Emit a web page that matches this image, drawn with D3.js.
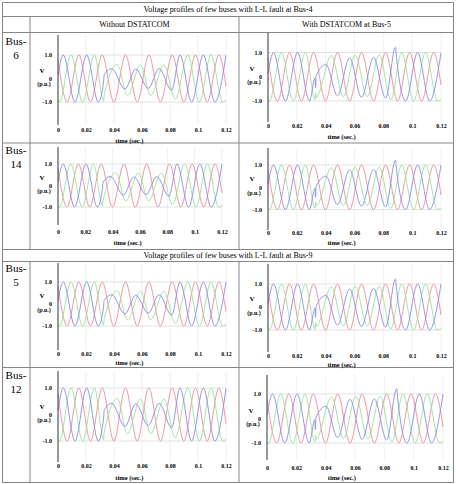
<!DOCTYPE html>
<html>
<head>
<meta charset="utf-8">
<script src="https://cdn.jsdelivr.net/npm/d3@7"></script>
<style>
  body { margin: 0; background: #fff; }
  text { font-family: "Liberation Serif", "Times New Roman", serif; fill: #000; }
</style>
</head>
<body>
<svg width="456" height="484"></svg>
<script>
// table text
const tableTitles = ["Voltage profiles of few buses with L-L fault at Bus-4",
                     "Voltage profiles of few buses with L-L fault at Bus-9"];
const colHeads = ["Without DSTATCOM", "With DSTATCOM at Bus-5"];
const busNames = ["6", "14", "5", "12"];

// axis ticks
const xTicks = [0, 0.02, 0.04, 0.06, 0.08, 0.1, 0.12];
const xTickLabels = ["0", "0.02", "0.04", "0.06", "0.08", "0.1", "0.12"];
const yTicks = [1, 0, -1];
const yTickLabels = ["1.0", "0", "-1.0"];

// waveform extremes [time (s), voltage (p.u.)]
const phaseRed = [[0, 0.79], [0.0066, -1], [0.0149, 1], [0.0232, -1], [0.0316, 1], [0.0399, -1],
  [0.0482, 1], [0.0566, -1], [0.0649, 1], [0.0732, -1], [0.0816, 1], [0.0899, -1],
  [0.0982, 1], [0.1066, -1], [0.1149, 1], [0.12, -0.34]];

const blueWithout = [[0, 0.14], [0.0038, 1], [0.0121, -1], [0.0205, 1], [0.0288, -1],
  [0.0326, -0.12], [0.0329, 0.15], [0.0384, 0.42], [0.0478, -0.45], [0.0555, 0.4],
  [0.0645, -0.42], [0.0722, 0.42], [0.0812, -0.5], [0.0871, 1], [0.0955, -1],
  [0.1038, 1], [0.1121, -1], [0.12, 0.99]];
const greenWithout = [[0, -0.93], [0.0010, -1], [0.0093, 1], [0.0176, -1], [0.0260, 1],
  [0.0326, -0.95], [0.0329, -0.72], [0.0424, 0.6], [0.0495, -0.72], [0.0590, 0.58],
  [0.0662, -0.72], [0.0757, 0.58], [0.0838, -0.88], [0.0927, 1], [0.1010, -1],
  [0.1093, 1], [0.1176, -1], [0.12, -0.93]];

const blueWith = [[0, 0.14], [0.0038, 1], [0.0121, -1], [0.0205, 1], [0.0288, -1],
  [0.0326, -0.05], [0.0330, -0.45], [0.0334, 0.05], [0.0402, 0.5], [0.0482, -0.78],
  [0.0566, 0.78], [0.0649, -0.85], [0.0732, 0.8], [0.0816, -0.88], [0.0885, 1.22],
  [0.0889, 0.95], [0.0955, -1], [0.1038, 1], [0.1121, -1], [0.12, 0.99]];
const greenWith = [[0, -0.93], [0.0010, -1], [0.0093, 1], [0.0176, -1], [0.0260, 1],
  [0.0327, -0.95], [0.0331, -0.68], [0.0334, -0.85], [0.0440, 0.88], [0.0522, -0.82],
  [0.0605, 0.9], [0.0688, -0.82], [0.0772, 0.9], [0.0852, -0.95], [0.0927, 1],
  [0.1010, -1], [0.1093, 1], [0.1176, -1], [0.12, -0.93]];

const colors = { red: "#ef8a9c", green: "#9ae29a", blue: "#8a8aea" };

const svg = d3.select("svg");

// ---- table frame ----
const border = "#858585";
const hLines = [2.5, 16.5, 32.5, 143, 249.5, 261.5, 367.5, 482.5];
hLines.forEach(y => svg.append("line").attr("x1", 2.5).attr("x2", 453.5)
  .attr("y1", y).attr("y2", y).attr("stroke", border));
[2.5, 453.5].forEach(x => svg.append("line").attr("x1", x).attr("x2", x)
  .attr("y1", 2.5).attr("y2", 482.5).attr("stroke", border));
[30, 239].forEach(x => {
  svg.append("line").attr("x1", x).attr("x2", x).attr("y1", 16.5).attr("y2", 249.5).attr("stroke", border);
  svg.append("line").attr("x1", x).attr("x2", x).attr("y1", 261.5).attr("y2", 482.5).attr("stroke", border);
});

svg.append("text").attr("x", 228).attr("y", 12.3).attr("text-anchor", "middle")
  .attr("font-size", 8).text(tableTitles[0]);
svg.append("text").attr("x", 228).attr("y", 258.3).attr("text-anchor", "middle")
  .attr("font-size", 8).text(tableTitles[1]);
svg.append("text").attr("x", 134.5).attr("y", 27.3).attr("text-anchor", "middle")
  .attr("font-size", 8).text(colHeads[0]);
svg.append("text").attr("x", 346.5).attr("y", 27.3).attr("text-anchor", "middle")
  .attr("font-size", 8).text(colHeads[1]);

const busTops = [45, 154, 272, 379];
busNames.forEach((b, i) => {
  const t = svg.append("text").attr("x", 16).attr("y", busTops[i])
    .attr("text-anchor", "middle").attr("font-size", 11);
  t.append("tspan").attr("x", 16).text("Bus-");
  t.append("tspan").attr("x", 16).attr("dy", 13.5).text(b);
});

// ---- panels ----
const panels = [
  { x0: 58, x1: 226, y1: 55, ym1: 102, top: 35, bot: 125, xl: 131, tl: 141, blue: blueWithout, green: greenWithout },
  { x0: 268, x1: 441, y1: 52.5, ym1: 101, top: 33, bot: 122, xl: 127, tl: 137, blue: blueWith, green: greenWith },
  { x0: 58, x1: 222, y1: 164, ym1: 207, top: 147, bot: 225, xl: 233, tl: 243, blue: blueWithout, green: greenWithout },
  { x0: 268, x1: 441, y1: 165, ym1: 209.5, top: 148, bot: 230, xl: 234, tl: 243, blue: blueWith, green: greenWith },
  { x0: 58, x1: 226, y1: 282, ym1: 326, top: 263, bot: 350, xl: 355, tl: 363, blue: blueWithout, green: greenWithout },
  { x0: 268, x1: 441, y1: 284, ym1: 330, top: 264, bot: 352, xl: 357, tl: 365, blue: blueWith, green: greenWith },
  { x0: 58, x1: 226, y1: 388, ym1: 441, top: 371, bot: 462, xl: 467, tl: 478, blue: blueWithout, green: greenWithout },
  { x0: 267, x1: 443, y1: 394, ym1: 443, top: 375, bot: 460, xl: 469, tl: 478, blue: blueWith, green: greenWith }
];

panels.forEach(p => {
  const x = d3.scaleLinear().domain([0, 0.12]).range([p.x0, p.x1]);
  const y = d3.scaleLinear().domain([1, -1]).range([p.y1, p.ym1]);
  const g = svg.append("g");

  // grid
  g.selectAll(".vg").data(xTicks.slice(1)).enter().append("line")
    .attr("x1", d => x(d)).attr("x2", d => x(d)).attr("y1", p.top).attr("y2", p.bot)
    .attr("stroke", "#ececec").attr("stroke-width", 0.8);
  g.selectAll(".hg").data([1, -1]).enter().append("line")
    .attr("x1", p.x0).attr("x2", p.x1).attr("y1", d => y(d)).attr("y2", d => y(d))
    .attr("stroke", "#d6ddd6").attr("stroke-width", 0.8);

  // waveforms
  const line = d3.line().x(d => x(d[0])).y(d => y(d[1])).curve(d3.curveMonotoneX);
  [[phaseRed, colors.red], [p.green, colors.green], [p.blue, colors.blue]].forEach(([d, c]) => {
    g.append("path").datum(d).attr("d", line).attr("fill", "none")
      .attr("stroke", c).attr("stroke-width", 0.9);
  });

  // y axis line
  g.append("line").attr("x1", p.x0).attr("x2", p.x0).attr("y1", p.top).attr("y2", p.bot)
    .attr("stroke", "#555").attr("stroke-width", 1.2);

  // tick labels
  const xa = g.append("g").attr("transform", `translate(0,${p.xl - 3})`)
    .call(d3.axisBottom(x).tickValues(xTicks).tickSize(0).tickPadding(0)
      .tickFormat((d, i) => xTickLabels[i]));
  xa.select(".domain").remove();
  xa.selectAll("text").attr("font-size", 6).attr("font-weight", "bold")
    .attr("font-family", "Liberation Serif").attr("fill", "#000");

  const ya = g.append("g").attr("transform", `translate(${p.x0 - 6},0)`)
    .call(d3.axisLeft(y).tickValues(yTicks).tickSize(0).tickPadding(0)
      .tickFormat((d, i) => yTickLabels[i]));
  ya.select(".domain").remove();
  ya.selectAll("text").attr("font-size", 6).attr("font-weight", "bold")
    .attr("font-family", "Liberation Serif").attr("fill", "#000");

  const y0 = y(0);
  g.append("text").attr("x", p.x0 - 16).attr("y", y0 - 6).attr("text-anchor", "middle")
    .attr("font-size", 7).attr("font-weight", "bold").text("V");
  g.append("text").attr("x", p.x0 - 14).attr("y", y0 + 7.5).attr("text-anchor", "middle")
    .attr("font-size", 6).attr("font-weight", "bold").text("(p.u.)");
  g.append("text").attr("x", x(0.051)).attr("y", p.tl + 2).attr("text-anchor", "middle")
    .attr("font-size", 6.5).attr("font-weight", "bold").text("time (sec.)");
});
</script>
</body>
</html>
